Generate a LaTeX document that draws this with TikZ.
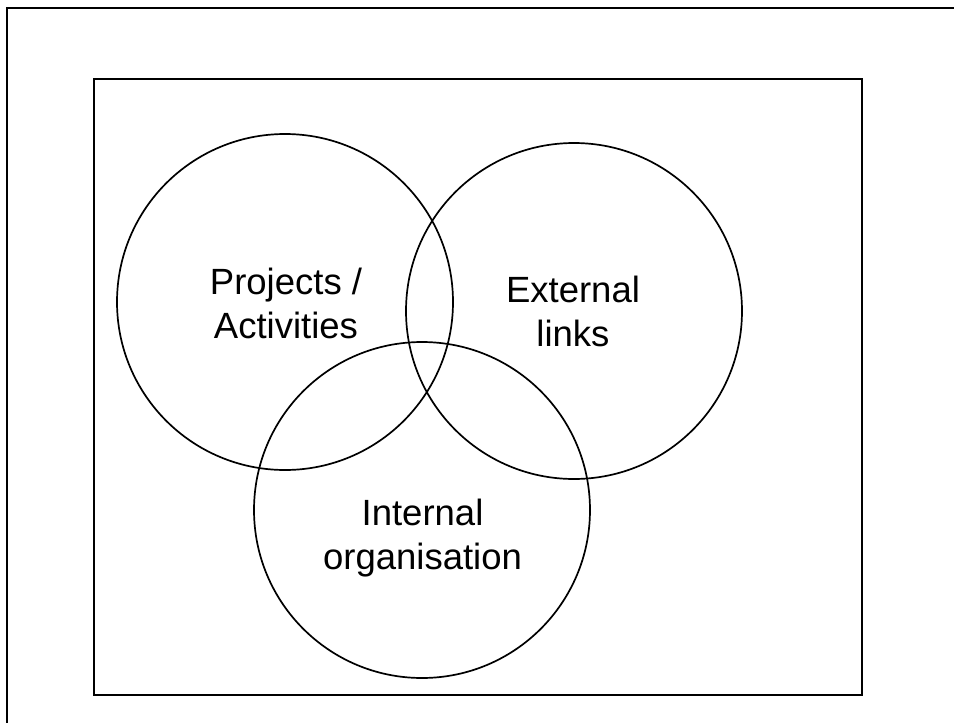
\documentclass[tikz,border=0pt]{standalone}
\usepackage{fontspec}
\setmainfont{Liberation Sans}
\begin{document}
\begin{tikzpicture}[x=1pt,y=-1pt,
  frame/.style={draw=black,line width=2.5pt},
  venn/.style={draw=black,line width=1.7pt,circle,minimum size=336pt,inner sep=0pt},
  lbl/.style={align=center,inner sep=0pt,font=\fontsize{36.5}{44}\selectfont}]
\useasboundingbox (0,0) rectangle (954,723);
% outer frame (only left and top edges visible)
\draw[frame] (7,730) -- (7,8) -- (960,8);
% inner frame
\draw[frame] (94,79) rectangle (862,695);
% circles
\node[venn] (proj) at (285,302) {};
\node[venn] (ext) at (574,311) {};
\node[venn] (int) at (422,510) {};
% labels
\node[lbl] (projl) at (286,303.5) {Projects /\\Activities};
\node[lbl] (extl) at (573,311.5) {External\\links};
\node[lbl] (intl) at (422.5,538) {Internal\\organisation};
\end{tikzpicture}
\end{document}
